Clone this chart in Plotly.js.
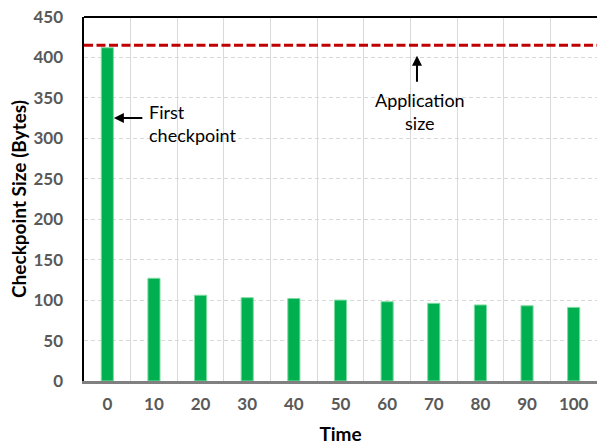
<!DOCTYPE html>
<html>
<head>
<meta charset="utf-8">
<script src="https://cdn.plot.ly/plotly-3.0.1.min.js"></script>
<style>html,body{margin:0;padding:0;background:#fff;}#chart{width:597px;height:445px;}</style>
</head>
<body>
<div id="chart"></div>
<script>
const timeLabels = ["0","10","20","30","40","50","60","70","80","90","100"];
const checkpointSizes = [412, 127, 106, 103, 102, 100, 98, 96, 94, 93, 91];
const applicationSize = 415;
const yTicks = [0,50,100,150,200,250,300,350,400,450];

const font = "Lato, 'Open Sans', 'DejaVu Sans', sans-serif";

const data = [{
  type: "bar",
  x: timeLabels,
  y: checkpointSizes,
  width: 0.26,
  marker: {color: "#00b050", line: {color: "#7ddc9f", width: 1}},
  hoverinfo: "none"
}];

const layout = {
  width: 597, height: 445,
  margin: {l: 84, r: 0, t: 17, b: 64},
  paper_bgcolor: "#fff", plot_bgcolor: "#fff",
  showlegend: false,
  font: {family: font},
  bargap: 0,
  xaxis: {
    type: "category",
    tickson: "boundaries",
    showgrid: true, gridcolor: "#d9d9d9", gridwidth: 1,
    showline: true, linecolor: "#808080", linewidth: 2.5,
    ticks: "",
    ticklabelstandoff: 6,
    tickfont: {family: font, size: 17, color: "#595959", weight: "bold"},
    title: {text: "Time", font: {family: font, size: 19, color: "#000", weight: "bold"}, standoff: 16},
    automargin: false,
    range: [-0.5, 10.5],
    fixedrange: true
  },
  yaxis: {
    range: [0, 450],
    tickvals: yTicks,
    ticktext: yTicks.map(String),
    showgrid: true, gridcolor: "#d9d9d9", griddash: "4px,3px", gridwidth: 1,
    zeroline: false,
    showline: true, linecolor: "#000", linewidth: 2.5,
    ticks: "",
    ticklabelstandoff: 15,
    tickfont: {family: font, size: 17, color: "#595959", weight: "bold"},
    title: {text: "Checkpoint Size (Bytes)", font: {family: font, size: 19, color: "#000", weight: "bold"}, standoff: 2},
    automargin: false,
    fixedrange: true
  },
  shapes: [
    {type: "line", xref: "paper", yref: "y", x0: 0, x1: 1, y0: applicationSize, y1: applicationSize,
     line: {color: "#c00000", width: 3, dash: "9px,3.5px"}},
    {type: "line", xref: "paper", yref: "paper", x0: 0, x1: 1, y0: 1, y1: 1,
     line: {color: "#000", width: 2}}
  ],
  annotations: [
    {x: 0.14, y: 325, xref: "x", yref: "y", text: " ", font: {size: 1},
     showarrow: true, arrowhead: 2, arrowsize: 1, arrowwidth: 2, arrowcolor: "#000",
     ax: 30, ay: 0, standoff: 0},
    {x: 0.86, y: 318, xref: "x", yref: "y", xanchor: "left", yanchor: "middle", align: "left",
     text: "First<br>checkpoint", showarrow: false,
     font: {family: font, size: 18, color: "#000"}},
    {x: 6.64, y: 402, xref: "x", yref: "y", text: " ", font: {size: 1},
     showarrow: true, arrowhead: 2, arrowsize: 1, arrowwidth: 2, arrowcolor: "#000",
     ax: 0, ay: 28, standoff: 0},
    {x: 6.70, y: 333, xref: "x", yref: "y", xanchor: "center", yanchor: "middle", align: "center",
     text: "Application<br>size", showarrow: false,
     font: {family: font, size: 18, color: "#000"}}
  ]
};

Plotly.newPlot("chart", data, layout, {displayModeBar: false, staticPlot: true});
</script>
</body>
</html>
